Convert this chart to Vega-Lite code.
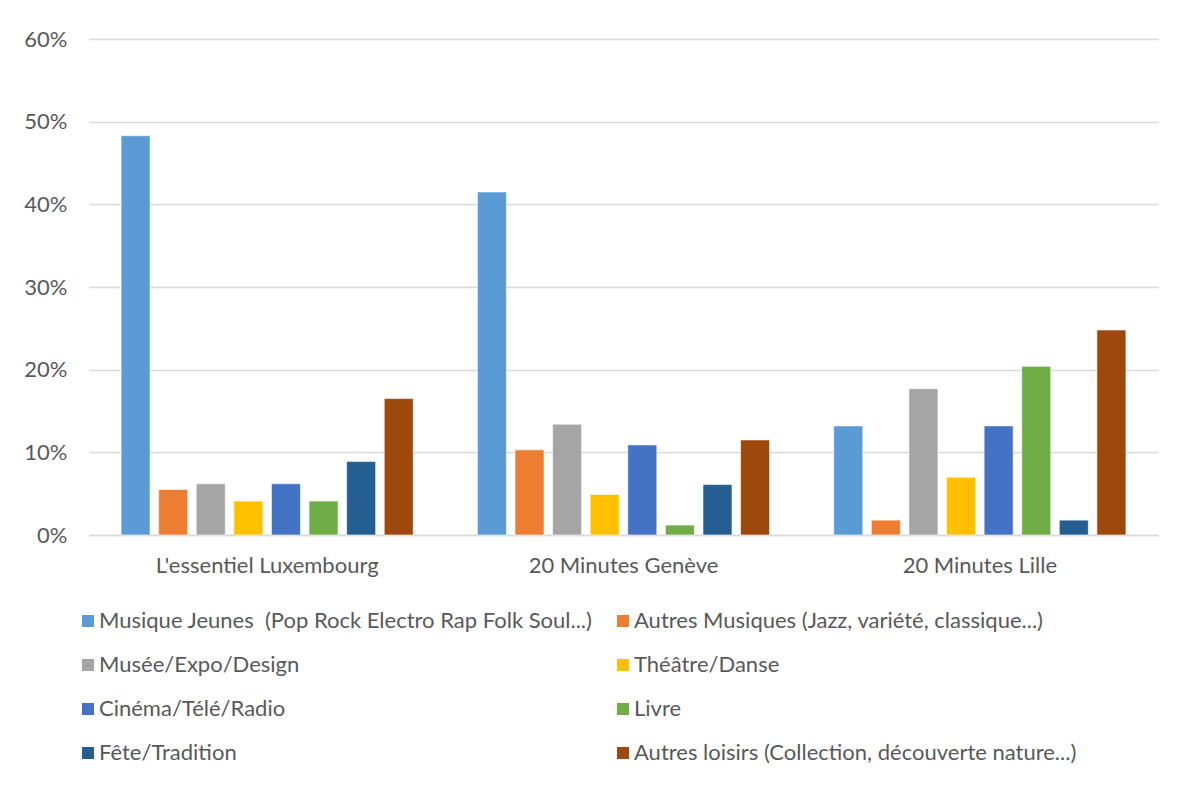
{
  "$schema": "https://vega.github.io/schema/vega-lite/v6.json",
  "width": 1069,
  "height": 496,
  "autosize": "none",
  "padding": {"left": 89, "top": 39, "right": 25, "bottom": 250},
  "background": "white",
  "config": {"view": {"stroke": null}, "font": "Lato", "legend": {"padding": 0}},
  "data": {"values": [
    {"journal": "L'essentiel Luxembourg", "cat": "Musique Jeunes\u00a0 (Pop Rock Electro Rap Folk Soul...)", "value": 0.483},
    {"journal": "L'essentiel Luxembourg", "cat": "Autres Musiques (Jazz, variété, classique...)", "value": 0.055},
    {"journal": "L'essentiel Luxembourg", "cat": "Musée/Expo/Design", "value": 0.062},
    {"journal": "L'essentiel Luxembourg", "cat": "Théâtre/Danse", "value": 0.041},
    {"journal": "L'essentiel Luxembourg", "cat": "Cinéma/Télé/Radio", "value": 0.062},
    {"journal": "L'essentiel Luxembourg", "cat": "Livre", "value": 0.041},
    {"journal": "L'essentiel Luxembourg", "cat": "Fête/Tradition", "value": 0.089},
    {"journal": "L'essentiel Luxembourg", "cat": "Autres loisirs (Collection, découverte nature...)", "value": 0.165},
    {"journal": "20 Minutes Genève", "cat": "Musique Jeunes\u00a0 (Pop Rock Electro Rap Folk Soul...)", "value": 0.415},
    {"journal": "20 Minutes Genève", "cat": "Autres Musiques (Jazz, variété, classique...)", "value": 0.103},
    {"journal": "20 Minutes Genève", "cat": "Musée/Expo/Design", "value": 0.134},
    {"journal": "20 Minutes Genève", "cat": "Théâtre/Danse", "value": 0.049},
    {"journal": "20 Minutes Genève", "cat": "Cinéma/Télé/Radio", "value": 0.109},
    {"journal": "20 Minutes Genève", "cat": "Livre", "value": 0.012},
    {"journal": "20 Minutes Genève", "cat": "Fête/Tradition", "value": 0.061},
    {"journal": "20 Minutes Genève", "cat": "Autres loisirs (Collection, découverte nature...)", "value": 0.115},
    {"journal": "20 Minutes Lille", "cat": "Musique Jeunes\u00a0 (Pop Rock Electro Rap Folk Soul...)", "value": 0.132},
    {"journal": "20 Minutes Lille", "cat": "Autres Musiques (Jazz, variété, classique...)", "value": 0.018},
    {"journal": "20 Minutes Lille", "cat": "Musée/Expo/Design", "value": 0.177},
    {"journal": "20 Minutes Lille", "cat": "Théâtre/Danse", "value": 0.070},
    {"journal": "20 Minutes Lille", "cat": "Cinéma/Télé/Radio", "value": 0.132},
    {"journal": "20 Minutes Lille", "cat": "Livre", "value": 0.204},
    {"journal": "20 Minutes Lille", "cat": "Fête/Tradition", "value": 0.018},
    {"journal": "20 Minutes Lille", "cat": "Autres loisirs (Collection, découverte nature...)", "value": 0.248}
  ]},
  "mark": {"type": "bar", "stroke": "white", "strokeWidth": 0.6},
  "encoding": {
    "x": {
      "field": "journal", "type": "nominal",
      "sort": ["L'essentiel Luxembourg", "20 Minutes Genève", "20 Minutes Lille"],
      "scale": {"paddingInner": 0.18, "paddingOuter": 0.09},
      "axis": {"title": null, "labelAngle": 0, "domainColor": "#d9d9d9", "domainWidth": 1.5, "ticks": false, "labelPadding": 20, "labelFontSize": 22, "labelColor": "#595959", "labelBaseline": "top", "labelLimit": 600}
    },
    "xOffset": {
      "field": "cat", "type": "nominal",
      "sort": ["Musique Jeunes\u00a0 (Pop Rock Electro Rap Folk Soul...)", "Autres Musiques (Jazz, variété, classique...)", "Musée/Expo/Design", "Théâtre/Danse", "Cinéma/Télé/Radio", "Livre", "Fête/Tradition", "Autres loisirs (Collection, découverte nature...)"],
      "scale": {"paddingInner": 0.228, "paddingOuter": 0}
    },
    "y": {
      "field": "value", "type": "quantitative",
      "scale": {"domain": [0, 0.6], "nice": false},
      "axis": {"title": null, "format": ".0%", "values": [0, 0.1, 0.2, 0.3, 0.4, 0.5, 0.6], "domain": false, "ticks": false, "gridColor": "#d9d9d9", "gridWidth": 1.3, "labelPadding": 22, "labelFontSize": 22, "labelColor": "#595959"}
    },
    "color": {
      "field": "cat", "type": "nominal",
      "scale": {
        "domain": ["Musique Jeunes\u00a0 (Pop Rock Electro Rap Folk Soul...)", "Autres Musiques (Jazz, variété, classique...)", "Musée/Expo/Design", "Théâtre/Danse", "Cinéma/Télé/Radio", "Livre", "Fête/Tradition", "Autres loisirs (Collection, découverte nature...)"],
        "range": ["#5B9BD5", "#ED7D31", "#A5A5A5", "#FFC000", "#4472C4", "#70AD47", "#255E91", "#9E480E"]
      },
      "legend": {"orient": "none", "legendX": -12, "legendY": 571, "direction": "horizontal", "columns": 2, "title": null, "symbolType": "square", "symbolSize": 144, "symbolStrokeWidth": 0, "symbolOpacity": 1, "labelFontSize": 22, "labelColor": "#595959", "labelLimit": 900, "labelOffset": 0, "rowPadding": 22, "columnPadding": 19}
    }
  }
}
